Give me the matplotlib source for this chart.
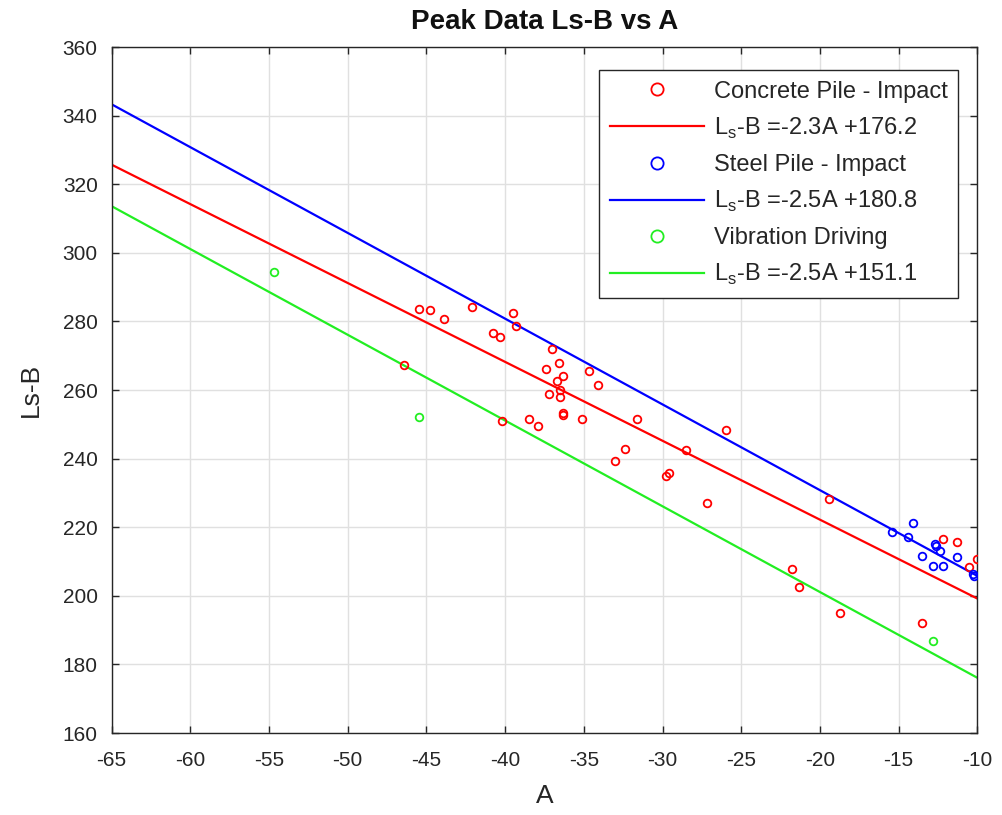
import numpy as np
import matplotlib
matplotlib.use("Agg")
import matplotlib.pyplot as plt

plt.rcParams['font.family'] = ['Liberation Sans', 'DejaVu Sans']
plt.rcParams['mathtext.fontset'] = 'custom'
plt.rcParams['mathtext.rm'] = 'Liberation Sans'
plt.rcParams['axes.unicode_minus'] = False

# concrete pile - impact
conc_a = [-46.4, -45.5, -44.8, -43.9, -42.1, -40.8, -40.3, -39.5, -39.3, -37.0,
          -36.6, -37.4, -36.3, -36.7, -36.5, -37.2, -36.5, -36.3, -36.3, -40.2,
          -38.5, -37.9, -35.1, -34.7, -34.1, -31.6, -32.4, -33.0, -28.5, -29.6,
          -29.8, -27.2, -26.0, -19.4, -21.8, -21.3, -18.7, -13.5, -12.2, -11.3,
          -10.0, -10.5]
conc_y = [267.2, 283.6, 283.4, 280.6, 284.1, 276.7, 275.5, 282.4, 278.7, 272.0,
          268.0, 266.0, 264.1, 262.7, 260.0, 258.8, 258.0, 253.3, 252.7, 250.9,
          251.6, 249.4, 251.6, 265.6, 261.5, 251.5, 242.8, 239.4, 242.5, 235.9,
          234.9, 227.2, 248.4, 228.3, 207.9, 202.7, 195.1, 192.0, 216.6, 215.6,
          210.6, 208.3]

# steel pile - impact
steel_a = [-15.4, -14.1, -14.4, -12.7, -12.6, -12.4, -13.5, -12.8, -12.2, -11.3, -10.3, -10.2]
steel_y = [218.6, 221.3, 217.1, 215.0, 214.5, 213.0, 211.6, 208.6, 208.6, 211.3, 206.4, 205.8]

# vibration driving
vib_a = [-54.7, -45.5, -12.8]
vib_y = [294.5, 252.0, 186.8]

# fit coefficients (from legend)
slopes = [-2.3, -2.5, -2.5]
intercepts = [176.2, 180.8, 151.1]
fit_labels = [r'L$_\mathrm{s}$-B =-2.3A +176.2',
              r'L$_\mathrm{s}$-B =-2.5A +180.8',
              r'L$_\mathrm{s}$-B =-2.5A +151.1']
series_labels = ['Concrete Pile - Impact', 'Steel Pile - Impact', 'Vibration Driving']
colors = ['#ff0000', '#0000ff', '#22ee22']

fig = plt.figure(figsize=(10.02, 8.15), dpi=100)
ax = fig.add_axes([0.1114, 0.1006, 0.864, 0.8417])

xs = np.array([-65, -10])
pts = [(conc_a, conc_y), (steel_a, steel_y), (vib_a, vib_y)]
for (a, y), m, b, c, sl, fl in zip(pts, slopes, intercepts, colors, series_labels, fit_labels):
    ax.plot(a, y, 'o', mfc='none', mec=c, ms=5.5, mew=1.3, label=sl, zorder=3)
    ax.plot(xs, m * xs + b, '-', color=c, lw=1.6, label=fl, zorder=2)

ax.set_xlim(-65, -10)
ax.set_ylim(160, 360)
ax.set_xticks(np.arange(-65, -9, 5))
ax.set_yticks(np.arange(160, 361, 20))
ax.grid(True, color='#e0e0e0', lw=1.0)
ax.set_axisbelow(True)
ax.tick_params(direction='in', top=True, right=True, labelsize=15,
               colors='#262626', length=5, width=1.0)
ax.tick_params(axis='x', pad=13)
ax.tick_params(axis='y', pad=10)
for s in ax.spines.values():
    s.set_color('#262626')
    s.set_linewidth(1.0)

ax.set_xlabel('A', fontsize=19, color='#262626', labelpad=10)
ax.set_ylabel('Ls-B', fontsize=19, color='#262626', labelpad=14)
ax.set_title('Peak Data Ls-B vs A', fontsize=20, fontweight='bold', color='#111111', pad=13)

leg = ax.legend(loc='upper right', fontsize=17, handlelength=4.0, markerscale=1.6,
                fancybox=False, framealpha=1, edgecolor='#262626',
                borderpad=0.45, labelspacing=0.55, handletextpad=0.4,
                borderaxespad=0, bbox_to_anchor=(0.978, 0.9665))
leg.get_frame().set_linewidth(1.0)
for t in leg.get_texts():
    t.set_color('#262626')

fig.savefig('out.png', dpi=100)
